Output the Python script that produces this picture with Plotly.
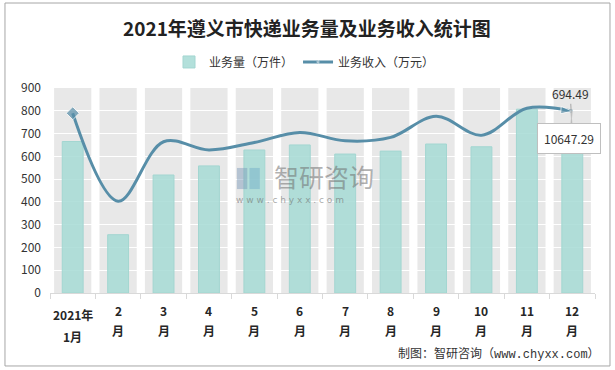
import plotly.graph_objects as go

months = ["1月", "2月", "3月", "4月", "5月", "6月", "7月", "8月", "9月", "10月", "11月", "12月"]
label_top = ["2021年", "2", "3", "4", "5", "6", "7", "8", "9", "10", "11", "12"]
label_bottom = ["1月", "月", "月", "月", "月", "月", "月", "月", "月", "月", "月", "月"]
volume = [665, 256, 518, 558, 628, 650, 610, 623, 654, 642, 807, 694.49]          # 万件
revenue = [10520, 5373, 8853, 8373, 8813, 9400, 8907, 9107, 10347, 9240, 10813, 10647.29]  # 万元

FONT = "Noto Sans CJK SC, DejaVu Sans, sans-serif"
LINE_COLOR = "#578ea8"

fig = go.Figure()

fig.add_trace(go.Bar(
    x=months, y=volume, name="业务量（万件）",
    width=0.46,
    marker=dict(color="rgba(166,218,213,0.85)", line=dict(color="#a3d6d1", width=1)),
    yaxis="y",
))

n = len(revenue)
symbols = ["diamond"] + ["circle"] * (n - 2) + ["arrow"]
sizes = [10] + [0] * (n - 2) + [12]
angles = [0] * (n - 1) + [95]
fig.add_trace(go.Scatter(
    x=months, y=revenue, name="业务收入（万元）",
    mode="lines+markers",
    line=dict(color=LINE_COLOR, width=3, shape="spline", smoothing=1.0),
    marker=dict(symbol=symbols, size=sizes, color=LINE_COLOR, angle=angles),
    yaxis="y2",
))

# gray background bands per category
shapes = []
for i in range(len(months)):
    shapes.append(dict(type="rect", xref="x", yref="y", x0=i - 0.41, x1=i + 0.41,
                       y0=0, y1=900, fillcolor="#e8e8e8", line=dict(width=0), layer="below"))
# outer frame
shapes.append(dict(type="rect", xref="paper", yref="paper", x0=-0.0826, x1=1.0275,
                   y0=-0.356, y1=1.4146, line=dict(color="#a6a6a6", width=1),
                   fillcolor="rgba(0,0,0,0)", layer="above"))
# watermark logo (simple blocks)
shapes.append(dict(type="rect", xref="paper", yref="paper", x0=0.343, x1=0.362,
                   y0=0.507, y1=0.610, fillcolor="rgba(120,150,185,0.45)", line=dict(width=0)))
shapes.append(dict(type="rect", xref="paper", yref="paper", x0=0.366, x1=0.385,
                   y0=0.507, y1=0.610, fillcolor="rgba(110,170,200,0.45)", line=dict(width=0)))

annotations = [
    dict(text="2021年遵义市快递业务量及业务收入统计图", xref="paper", yref="paper",
         x=0.472, y=1.297, xanchor="center", yanchor="middle", showarrow=False,
         font=dict(family=FONT, size=19, color="#222222", weight="bold")),
    dict(text="制图：智研咨询（www.chyxx.com）", xref="paper", yref="paper",
         x=1.013, y=-0.298, xanchor="right", yanchor="middle", showarrow=False,
         font=dict(family="Liberation Mono, Noto Sans CJK SC, monospace", size=12, color="#333333")),
    dict(text="智研咨询", xref="paper", yref="paper", x=0.503, y=0.570,
         xanchor="center", yanchor="middle", showarrow=False,
         font=dict(family=FONT, size=25, color="rgba(110,110,110,0.55)")),
    dict(text="w w w . c h y x x . c o m", xref="paper", yref="paper", x=0.44, y=0.455,
         xanchor="center", yanchor="middle", showarrow=False,
         font=dict(family="DejaVu Sans", size=9, color="rgba(110,110,110,0.6)")),
    dict(text="694.49", x=months[-1], y=volume[-1], xref="x", yref="y",
         ax=-2, ay=-41, showarrow=True, arrowhead=0, arrowwidth=1, arrowcolor="#a6a6a6",
         font=dict(family=FONT, size=12, color="#333333")),
    dict(text="10647.29", x=months[-1], y=revenue[-1], xref="x", yref="y2",
         ax=-3, ay=27, showarrow=True, arrowhead=0, arrowwidth=1, arrowcolor="#c8c8c8",
         bgcolor="white", bordercolor="#bfbfbf", borderwidth=1, borderpad=6,
         font=dict(family=FONT, size=12, color="#333333")),
]

# two-line category labels
for i, m in enumerate(months):
    first = (i == 0)
    annotations.append(dict(text=label_top[i], x=m, xref="x", yref="paper",
                            y=-0.1073 if first else -0.0878, xanchor="center", yanchor="middle",
                            showarrow=False,
                            font=dict(family=FONT, size=12, color="#262626", weight="bold")))
    annotations.append(dict(text=label_bottom[i], x=m, xref="x", yref="paper",
                            y=-0.2146 if first else -0.1805, xanchor="center", yanchor="middle",
                            showarrow=False,
                            font=dict(family=FONT, size=12, color="#262626", weight="bold")))

fig.update_layout(
    width=615, height=370,
    margin=dict(l=50, r=20, t=88, b=77, autoexpand=False),
    paper_bgcolor="white", plot_bgcolor="white",
    font=dict(family=FONT, size=12, color="#333333"),
    showlegend=True,
    legend=dict(orientation="h", x=0.467, y=1.127, xanchor="center", yanchor="middle",
                font=dict(family=FONT, size=12, color="#333333"), itemwidth=30,
                bgcolor="rgba(0,0,0,0)"),
    xaxis=dict(type="category", tickson="boundaries", ticks="outside", ticklen=5,
               tickcolor="#d9d9d9", showticklabels=False,
               showline=True, linecolor="#d9d9d9", linewidth=1, showgrid=False,
               automargin=False, range=[-0.5, 11.5]),
    yaxis=dict(range=[0, 900], dtick=100, showgrid=True, gridcolor="white", gridwidth=1,
               zeroline=False, showline=False, ticks="", automargin=False,
               ticklabelstandoff=8,
               tickfont=dict(family=FONT, size=12, color="#333333")),
    yaxis2=dict(range=[0, 12000], overlaying="y", side="right", visible=False,
                showgrid=False),
    shapes=shapes,
    annotations=annotations,
)

fig.write_html("out.html", config={"displayModeBar": False},
               post_script="document.body.style.margin='0';document.body.style.overflow='hidden';")
